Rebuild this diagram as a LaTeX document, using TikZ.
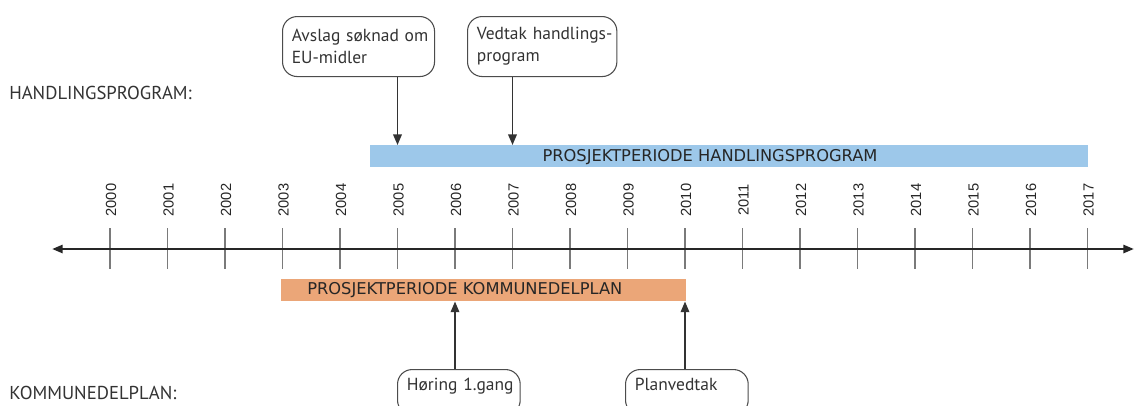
\documentclass[tikz,border=0pt]{standalone}
\usepackage{fontspec}
\setmainfont{PT Sans}
\newfontfamily\yearfont{Liberation Sans}
\newfontfamily\barfont{DejaVu Sans}
\usetikzlibrary{arrows.meta}
\definecolor{barblue}{HTML}{9DC8EA}
\definecolor{barorange}{HTML}{EBA678}
\definecolor{txt}{HTML}{333333}
\definecolor{tickgray}{HTML}{7A7A7A}
\begin{document}
\begin{tikzpicture}[x=0.75pt,y=-0.75pt,
  event/.style={draw=black!70, line width=0.8pt, rounded corners=11pt, align=left,
    font=\fontsize{13.1}{16.5}\selectfont, text=txt, anchor=north west,
    inner xsep=7pt},
  bar/.style={anchor=north west, inner sep=0pt, minimum height=16.5pt},
  bartext/.style={font=\barfont\fontsize{12.2}{14}\selectfont, text=black!85, inner sep=0pt},
  yearlabel/.style={font=\yearfont\fontsize{11}{12}\selectfont, text=black!85, rotate=90, inner sep=0pt},
  tickline/.style={draw=tickgray, line width=1.1pt},
  axis/.style={draw=black!85, line width=1.9pt, {Triangle[length=8pt,width=6pt]}-{Triangle[length=8pt,width=6pt]}},
  evarrow/.style={draw=black!80, line width=1.1pt, -{Triangle[length=8pt,width=6.5pt]}},
  heading/.style={font=\fontsize{14}{16}\selectfont, text=txt, anchor=west, inner sep=0pt}
]
\path[use as bounding box, fill=white] (0,0) rectangle (1135,405);
\clip (0,0) rectangle (1135,405);

% headings
\node[heading] (hp) at (9,93) {HANDLINGSPROGRAM:};
\node[heading] (kp) at (9,393) {KOMMUNEDELPLAN:};

% year coordinates, ticks and labels
\foreach \i in {0,...,17} {
  \pgfmathsetmacro{\xx}{110+57.5*\i}
  \pgfmathtruncatemacro{\yr}{2000+\i}
  \coordinate (y\yr) at (\xx,249);
  \draw[tickline] (\xx,228) -- (\xx,269);
  \node[yearlabel] (l\yr) at (\xx+1,200) {\yr};
}

% axis
\coordinate (axl) at (52,249);
\coordinate (axr) at (1134,249);
\draw[axis] (axl) -- (axr);

% bars
\node[bar, fill=barblue, minimum width=538.5pt] (blue) at (370,145) {};
\node[bartext] (bluet) at (710,157) {PROSJEKTPERIODE HANDLINGSPROGRAM};
\node[bar, fill=barorange, minimum width=303.75pt] (orange) at (281,279) {};
\node[bartext, anchor=west] (oranget) at (307,290) {PROSJEKTPERIODE KOMMUNEDELPLAN};

% events
\node[event, text width=100pt, minimum height=45pt] (avslag) at (282,16) {\mbox{Avslag søknad om}\\\mbox{EU-midler}};
\node[event, text width=98pt, minimum height=45pt] (vedtak) at (467,16) {\mbox{Vedtak handlings-}\\\mbox{program}};
\node[event, text width=78pt, minimum height=34pt, text depth=12pt] (horing) at (397,369) {\mbox{Høring 1.gang}};
\node[event, text width=78pt, minimum height=34pt, text depth=12pt] (plan) at (625,369) {\mbox{Planvedtak}};

% event arrows
\draw[evarrow] (avslag.south -| y2005) -- (y2005 |- blue.north);
\draw[evarrow] (vedtak.south -| y2007) -- (y2007 |- blue.north);
\draw[evarrow] (horing.north -| y2006) -- (y2006 |- orange.south);
\draw[evarrow] (plan.north -| y2010) -- (y2010 |- orange.south);
\end{tikzpicture}
\end{document}
